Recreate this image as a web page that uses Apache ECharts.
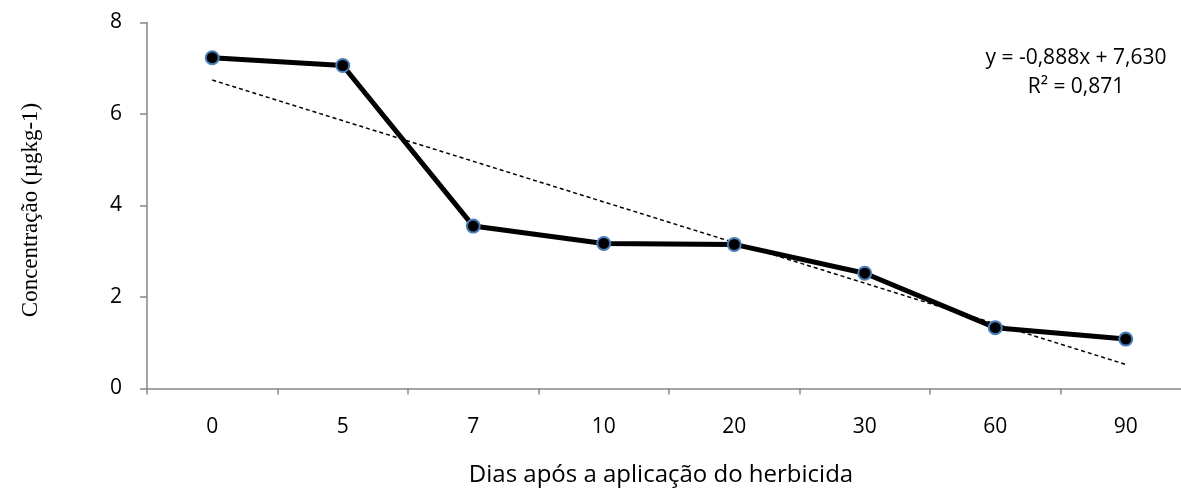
<!DOCTYPE html>
<html>
<head>
<meta charset="utf-8">
<script src="https://cdn.jsdelivr.net/npm/echarts@6/dist/echarts.min.js"></script>
<style>html,body{margin:0;padding:0;background:#fff;}#c{width:1181px;height:488px;}</style>
</head>
<body>
<div id="c"></div>
<script>
var categories = ['0', '5', '7', '10', '20', '30', '60', '90'];
var concentration = [7.23, 7.06, 3.55, 3.17, 3.15, 2.52, 1.33, 1.08];
var trendEnds = [6.742, 0.526];
var yTicks = [0, 2, 4, 6, 8];
var equationText = 'y = -0,888x + 7,630';
var r2Text = 'R² = 0,871';
var xTitle = 'Dias após a aplicação do herbicida';
var yTitle = 'Concentração (µgkg-1)';

var chart = echarts.init(document.getElementById('c'), null, {renderer: 'canvas'});
var axisColor = '#868686';
chart.setOption({
  animation: false,
  backgroundColor: '#ffffff',
  grid: {left: 147, top: 22.5, width: 1044, height: 366, containLabel: false, outerBoundsMode: 'none'},
  xAxis: {
    type: 'category',
    data: categories,
    boundaryGap: true,
    axisLine: {lineStyle: {color: axisColor, width: 1.5}},
    axisTick: {show: true, alignWithLabel: false, length: 6, inside: false, lineStyle: {color: axisColor, width: 1.5}},
    axisLabel: {color: '#000', fontFamily: 'Open Sans', fontSize: 21, margin: 28}
  },
  yAxis: {
    type: 'value',
    min: yTicks[0],
    max: yTicks[yTicks.length - 1],
    interval: 2,
    splitLine: {show: false},
    axisLine: {show: true, lineStyle: {color: axisColor, width: 1.5}},
    axisTick: {show: true, length: 7, lineStyle: {color: axisColor, width: 1.5}},
    axisLabel: {color: '#000', fontFamily: 'Open Sans', fontSize: 21, margin: 25}
  },
  series: [{
    type: 'line',
    data: concentration,
    symbol: 'circle',
    symbolSize: 13,
    lineStyle: {color: '#000', width: 5},
    itemStyle: {color: '#000', borderColor: '#4a7ebb', borderWidth: 2},
    z: 3,
    markLine: {
      silent: true,
      symbol: ['none', 'none'],
      label: {show: false},
      lineStyle: {color: '#000', type: [4, 3], width: 1.5},
      data: [[{coord: [0, trendEnds[0]]}, {coord: [categories.length - 1, trendEnds[1]]}]],
      z: 2
    }
  }],
  graphic: [
    {type: 'text', x: 1076, y: 58, style: {text: equationText, font: '21px "Open Sans"', fill: '#000', align: 'center', verticalAlign: 'middle'}},
    {type: 'text', x: 1076, y: 87, style: {text: r2Text, font: '21px "Open Sans"', fill: '#000', align: 'center', verticalAlign: 'middle'}},
    {type: 'text', x: 661, y: 475, style: {text: xTitle, font: '24px "Open Sans"', fill: '#000', align: 'center', verticalAlign: 'middle'}},
    {type: 'text', x: 31, y: 210, rotation: Math.PI / 2, style: {text: yTitle, font: '23px "Liberation Serif"', fill: '#000', align: 'center', verticalAlign: 'middle'}}
  ]
});
</script>
</body>
</html>
